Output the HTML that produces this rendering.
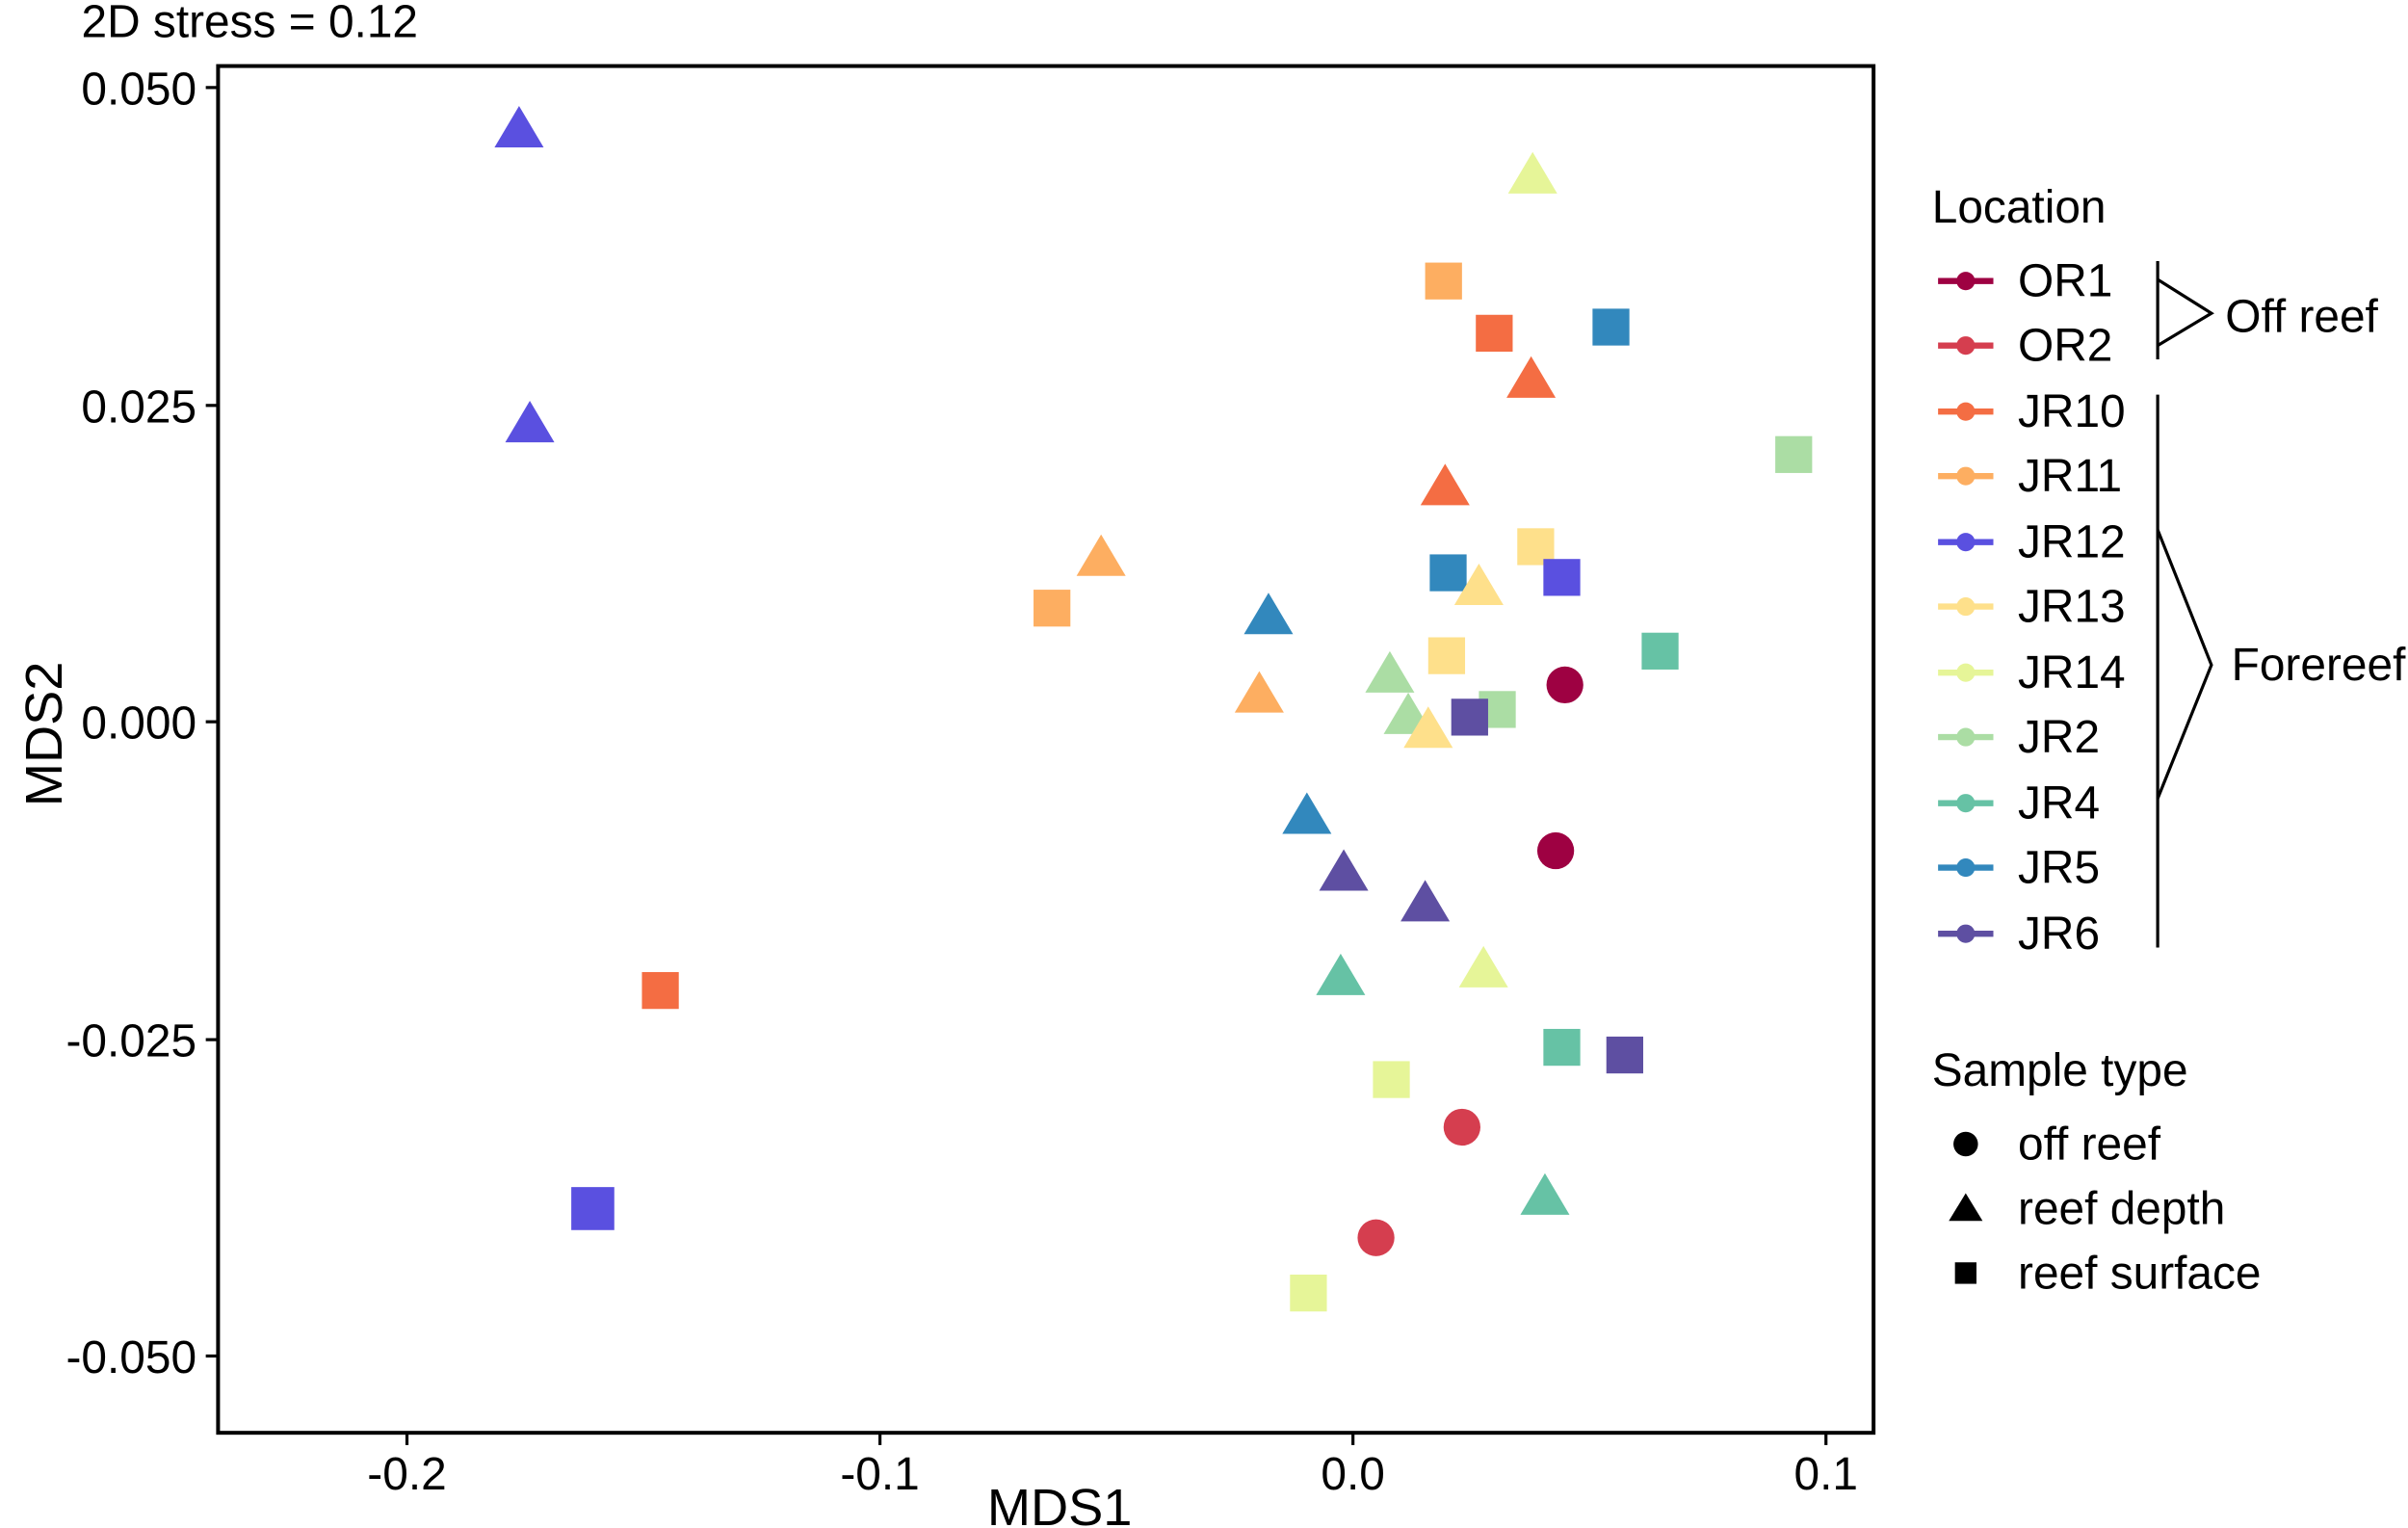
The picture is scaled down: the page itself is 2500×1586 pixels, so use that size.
<!DOCTYPE html>
<html><head><meta charset="utf-8"><style>
html,body{margin:0;padding:0;background:#fff;}
svg{display:block;}
text{font-family:"Liberation Sans",sans-serif;fill:#000;}
</style></head><body>
<svg width="2500" height="1586" viewBox="0 0 1568 995" preserveAspectRatio="none" xmlns="http://www.w3.org/2000/svg">
<text x="53" y="24" font-size="30">2D stress = 0.12</text>
<rect x="142" y="43" width="1078" height="890" fill="none" stroke="#000" stroke-width="2.5"/>
<g stroke="#000" stroke-width="2">
<line x1="265" y1="933" x2="265" y2="941"/><line x1="573" y1="933" x2="573" y2="941"/><line x1="881" y1="933" x2="881" y2="941"/><line x1="1189" y1="933" x2="1189" y2="941"/>
<line x1="134" y1="57" x2="142" y2="57"/><line x1="134" y1="264" x2="142" y2="264"/><line x1="134" y1="470" x2="142" y2="470"/><line x1="134" y1="677" x2="142" y2="677"/><line x1="134" y1="883" x2="142" y2="883"/>
</g>
<g font-size="30" text-anchor="middle">
<text x="265" y="970">-0.2</text><text x="573" y="970">-0.1</text><text x="881" y="970">0.0</text><text x="1189" y="970">0.1</text>
</g>
<g font-size="30" text-anchor="end">
<text x="128" y="68">0.050</text><text x="128" y="275">0.025</text><text x="128" y="481">0.000</text><text x="128" y="688">-0.025</text><text x="128" y="894">-0.050</text>
</g>
<text x="690" y="993" font-size="34" text-anchor="middle">MDS1</text>
<text transform="translate(28,478) rotate(-90)" font-size="34" text-anchor="middle" dy="12">MDS2</text>

<g>
<rect x="928" y="171" width="24" height="24" fill="#fdae61"/>
<rect x="673" y="384" width="24" height="24" fill="#fdae61"/>
<rect x="961" y="205" width="24" height="24" fill="#f46d43"/>
<rect x="418" y="633" width="24" height="24" fill="#f46d43"/>
<rect x="1037" y="201" width="24" height="24" fill="#3288bd"/>
<rect x="931" y="361" width="24" height="24" fill="#3288bd"/>
<rect x="1156" y="284" width="24" height="24" fill="#abdda4"/>
<rect x="963" y="450" width="24" height="24" fill="#abdda4"/>
<rect x="988" y="344" width="24" height="24" fill="#fee08b"/>
<rect x="930" y="415" width="24" height="24" fill="#fee08b"/>
<rect x="1005" y="364" width="24" height="24" fill="#5a50e0"/>
<rect x="372" y="773" width="28" height="28" fill="#5a50e0"/>
<rect x="1069" y="412" width="24" height="24" fill="#66c2a5"/>
<rect x="1005" y="670" width="24" height="24" fill="#66c2a5"/>
<rect x="945" y="455" width="24" height="24" fill="#5e4fa2"/>
<rect x="1046" y="675" width="24" height="24" fill="#5e4fa2"/>
<rect x="894" y="691" width="24" height="24" fill="#e6f598"/>
<rect x="840" y="830" width="24" height="24" fill="#e6f598"/>
<circle cx="1019" cy="446" r="12" fill="#9e0142"/>
<circle cx="1013" cy="554" r="12" fill="#9e0142"/>
<circle cx="952" cy="734" r="12" fill="#d53e4f"/>
<circle cx="896" cy="806" r="12" fill="#d53e4f"/>
<polygon points="338,69 354,96 322,96" fill="#5a50e0"/>
<polygon points="345,261 361,288 329,288" fill="#5a50e0"/>
<polygon points="998,99 1014,126 982,126" fill="#e6f598"/>
<polygon points="966,616 982,643 950,643" fill="#e6f598"/>
<polygon points="997,232 1013,259 981,259" fill="#f46d43"/>
<polygon points="941,302 957,329 925,329" fill="#f46d43"/>
<polygon points="717,348 733,375 701,375" fill="#fdae61"/>
<polygon points="820,437 836,464 804,464" fill="#fdae61"/>
<polygon points="826,386 842,413 810,413" fill="#3288bd"/>
<polygon points="851,516 867,543 835,543" fill="#3288bd"/>
<polygon points="905,424 921,451 889,451" fill="#abdda4"/>
<polygon points="917,451 933,478 901,478" fill="#abdda4"/>
<polygon points="963,367 979,394 947,394" fill="#fee08b"/>
<polygon points="930,460 946,487 914,487" fill="#fee08b"/>
<polygon points="875,553 891,580 859,580" fill="#5e4fa2"/>
<polygon points="928,573 944,600 912,600" fill="#5e4fa2"/>
<polygon points="873,621 889,648 857,648" fill="#66c2a5"/>
<polygon points="1006,764 1022,791 990,791" fill="#66c2a5"/>
</g>

<text x="1258" y="145" font-size="30">Location</text>
<g stroke-width="4">
<line x1="1262" y1="183" x2="1298" y2="183" stroke="#9e0142"/><circle cx="1280" cy="183" r="6" fill="#9e0142"/>
<line x1="1262" y1="225" x2="1298" y2="225" stroke="#d53e4f"/><circle cx="1280" cy="225" r="6" fill="#d53e4f"/>
<line x1="1262" y1="268" x2="1298" y2="268" stroke="#f46d43"/><circle cx="1280" cy="268" r="6" fill="#f46d43"/>
<line x1="1262" y1="310" x2="1298" y2="310" stroke="#fdae61"/><circle cx="1280" cy="310" r="6" fill="#fdae61"/>
<line x1="1262" y1="353" x2="1298" y2="353" stroke="#5a50e0"/><circle cx="1280" cy="353" r="6" fill="#5a50e0"/>
<line x1="1262" y1="395" x2="1298" y2="395" stroke="#fee08b"/><circle cx="1280" cy="395" r="6" fill="#fee08b"/>
<line x1="1262" y1="438" x2="1298" y2="438" stroke="#e6f598"/><circle cx="1280" cy="438" r="6" fill="#e6f598"/>
<line x1="1262" y1="480" x2="1298" y2="480" stroke="#abdda4"/><circle cx="1280" cy="480" r="6" fill="#abdda4"/>
<line x1="1262" y1="523" x2="1298" y2="523" stroke="#66c2a5"/><circle cx="1280" cy="523" r="6" fill="#66c2a5"/>
<line x1="1262" y1="565" x2="1298" y2="565" stroke="#3288bd"/><circle cx="1280" cy="565" r="6" fill="#3288bd"/>
<line x1="1262" y1="608" x2="1298" y2="608" stroke="#5e4fa2"/><circle cx="1280" cy="608" r="6" fill="#5e4fa2"/>
</g>
<g font-size="30">
<text x="1314" y="193">OR1</text><text x="1314" y="235">OR2</text><text x="1314" y="278">JR10</text><text x="1314" y="320">JR11</text><text x="1314" y="363">JR12</text><text x="1314" y="405">JR13</text><text x="1314" y="448">JR14</text><text x="1314" y="490">JR2</text><text x="1314" y="533">JR4</text><text x="1314" y="575">JR5</text><text x="1314" y="618">JR6</text>
</g>
<g stroke="#000" stroke-width="2" fill="none">
<line x1="1405" y1="170" x2="1405" y2="234"/>
<polyline points="1405,182 1440,204 1405,225"/>
<line x1="1405" y1="257" x2="1405" y2="617"/>
<polyline points="1405,345 1440,433 1405,520"/>
</g>
<text x="1449" y="216" font-size="30">Off reef</text>
<text x="1453" y="443" font-size="30">Forereef</text>

<text x="1258" y="707" font-size="30">Sample type</text>
<circle cx="1280" cy="745" r="8" fill="#000"/>
<polygon points="1280,777 1291,795 1269,795" fill="#000"/>
<rect x="1273" y="822" width="14" height="14" fill="#000"/>
<g font-size="30">
<text x="1314" y="755">off reef</text><text x="1314" y="797">reef depth</text><text x="1314" y="839">reef surface</text>
</g>
</svg>
</body></html>
